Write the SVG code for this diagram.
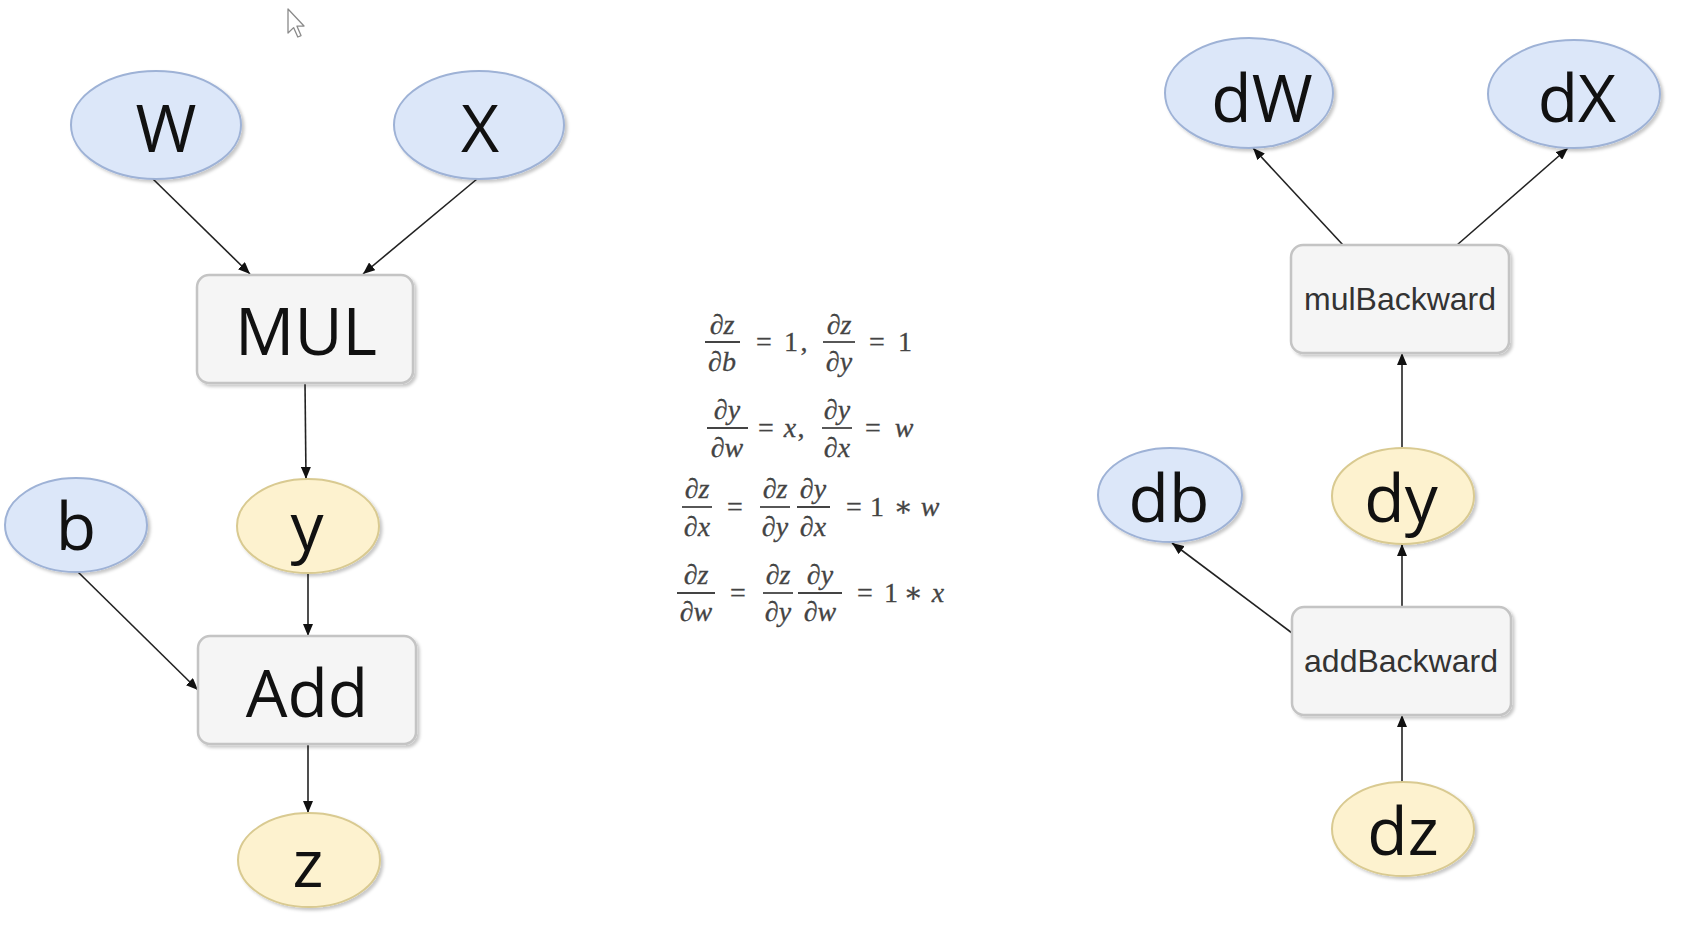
<svg xmlns="http://www.w3.org/2000/svg" width="1692" height="926" viewBox="0 0 1692 926">
<defs>
<style>
.bg{fill:#ffffff}
.blue{fill:#dce7f9;stroke:#9eb2d6;stroke-width:2}
.yel{fill:#fdf2cf;stroke:#d9ca91;stroke-width:2}
.box{fill:#f5f5f5;stroke:#c4c4c4;stroke-width:2.5}
.big{font-family:"Open Sans","Liberation Sans",sans-serif;font-size:66px;fill:#111;text-anchor:middle}
.small{font-family:"Liberation Sans",Arial,sans-serif;font-size:32px;fill:#333;text-anchor:middle}
.edge{stroke:#222;stroke-width:1.6;fill:none;marker-end:url(#arr)}
.m{font-family:"Liberation Serif","DejaVu Serif",serif;font-size:28px;fill:#444;text-anchor:middle;stroke:#444;stroke-width:0.3}
.mi{font-style:italic}
.bar{stroke:#444;stroke-width:1.8}
</style>
<marker id="arr" markerUnits="userSpaceOnUse" markerWidth="13" markerHeight="10" refX="12" refY="5" orient="auto">
<path d="M0,0 L12,5 L0,10 z" fill="#111"/>
</marker>
<filter id="sh" x="-20%" y="-20%" width="140%" height="140%">
<feDropShadow dx="2.5" dy="2.5" stdDeviation="1.5" flood-color="#000" flood-opacity="0.22"/>
</filter>
</defs>
<rect class="bg" x="0" y="0" width="1692" height="926"/>

<g id="cursor">
<path d="M288,9 L288,33 L293.6,27.6 L297.8,37 L301,35.6 L297,26.2 L304,26 Z" fill="#fff" stroke="#8a8a8a" stroke-width="1.3" stroke-linejoin="round"/>
</g>

<g id="connectors">
<line class="edge" x1="153" y1="179" x2="250" y2="274"/>
<line class="edge" x1="477" y1="179" x2="363" y2="274"/>
<line class="edge" x1="305" y1="383" x2="306" y2="479"/>
<line class="edge" x1="308" y1="573" x2="308" y2="636"/>
<line class="edge" x1="78" y1="572" x2="198" y2="690"/>
<line class="edge" x1="308" y1="744" x2="308" y2="813"/>
<line class="edge" x1="1343" y1="245" x2="1253" y2="148"/>
<line class="edge" x1="1457" y1="245" x2="1568" y2="148"/>
<line class="edge" x1="1402" y1="448" x2="1402" y2="353"/>
<line class="edge" x1="1402" y1="607" x2="1402" y2="544"/>
<line class="edge" x1="1292" y1="633" x2="1172" y2="543"/>
<line class="edge" x1="1402" y1="782" x2="1402" y2="715"/>
</g>

<g id="node-W"><ellipse class="blue" filter="url(#sh)" cx="156" cy="125" rx="85" ry="54"/><text class="big" x="166" y="152">W</text></g>
<g id="node-X"><ellipse class="blue" filter="url(#sh)" cx="479" cy="125" rx="85" ry="54"/><text class="big" x="480" y="152">X</text></g>
<g id="node-MUL"><rect class="box" filter="url(#sh)" x="197" y="275" width="216" height="108" rx="12"/><text class="big" x="306" y="355">MUL</text></g>
<g id="node-b"><ellipse class="blue" filter="url(#sh)" cx="76" cy="525" rx="71" ry="47"/><text class="big" x="76" y="550">b</text></g>
<g id="node-y"><ellipse class="yel" filter="url(#sh)" cx="308" cy="526" rx="71" ry="47"/><text class="big" x="307" y="550">y</text></g>
<g id="node-Add"><rect class="box" filter="url(#sh)" x="198" y="636" width="218" height="108" rx="12"/><text class="big" x="307" y="717">Add</text></g>
<g id="node-z"><ellipse class="yel" filter="url(#sh)" cx="309" cy="860" rx="71" ry="47"/><text class="big" x="308" y="887">z</text></g>

<g id="node-dW"><ellipse class="blue" filter="url(#sh)" cx="1249" cy="93" rx="84" ry="55"/><text class="big" x="1262" y="122">dW</text></g>
<g id="node-dX"><ellipse class="blue" filter="url(#sh)" cx="1574" cy="94" rx="86" ry="54"/><text class="big" x="1577" y="122">dX</text></g>
<g id="node-mulBackward"><rect class="box" filter="url(#sh)" x="1291" y="245" width="218" height="108" rx="12"/><text class="small" x="1400" y="310">mulBackward</text></g>
<g id="node-db"><ellipse class="blue" filter="url(#sh)" cx="1170" cy="495" rx="72" ry="47"/><text class="big" x="1169" y="522">db</text></g>
<g id="node-dy"><ellipse class="yel" filter="url(#sh)" cx="1403" cy="496" rx="71" ry="48"/><text class="big" x="1401" y="522">dy</text></g>
<g id="node-addBackward"><rect class="box" filter="url(#sh)" x="1292" y="607" width="219" height="108" rx="12"/><text class="small" x="1401" y="672">addBackward</text></g>
<g id="node-dz"><ellipse class="yel" filter="url(#sh)" cx="1403" cy="829" rx="71" ry="47"/><text class="big" x="1403" y="855">dz</text></g>

<g id="equations">
<!-- line 1 -->
<text class="m mi" x="722" y="334">∂z</text><line class="bar" x1="705" y1="342" x2="740" y2="342"/><text class="m mi" x="722" y="371">∂b</text>
<text class="m" x="764" y="351">=</text><text class="m" x="791" y="351">1</text><text class="m" x="804" y="351">,</text>
<text class="m mi" x="839" y="334">∂z</text><line class="bar" x1="823" y1="342" x2="855" y2="342"/><text class="m mi" x="839" y="371">∂y</text>
<text class="m" x="877" y="351">=</text><text class="m" x="905" y="351">1</text>
<!-- line 2 -->
<text class="m mi" x="727" y="419">∂y</text><line class="bar" x1="707" y1="428" x2="748" y2="428"/><text class="m mi" x="727" y="457">∂w</text>
<text class="m" x="766" y="437">=</text><text class="m mi" x="790" y="437">x</text><text class="m" x="801" y="437">,</text>
<text class="m mi" x="837" y="419">∂y</text><line class="bar" x1="822" y1="428" x2="852" y2="428"/><text class="m mi" x="837" y="457">∂x</text>
<text class="m" x="873" y="437">=</text><text class="m mi" x="904" y="437">w</text>
<!-- line 3 -->
<text class="m mi" x="697" y="498">∂z</text><line class="bar" x1="682" y1="507" x2="712" y2="507"/><text class="m mi" x="697" y="536">∂x</text>
<text class="m" x="735" y="516">=</text>
<text class="m mi" x="775" y="498">∂z</text><line class="bar" x1="760" y1="507" x2="790" y2="507"/><text class="m mi" x="775" y="536">∂y</text>
<text class="m mi" x="813" y="498">∂y</text><line class="bar" x1="797" y1="507" x2="830" y2="507"/><text class="m mi" x="813" y="536">∂x</text>
<text class="m" x="854" y="516">=</text><text class="m" x="877" y="516">1</text><text class="m" x="903" y="516">∗</text><text class="m mi" x="930" y="516">w</text>
<!-- line 4 -->
<text class="m mi" x="696" y="584">∂z</text><line class="bar" x1="677" y1="593" x2="715" y2="593"/><text class="m mi" x="696" y="621">∂w</text>
<text class="m" x="738" y="602">=</text>
<text class="m mi" x="778" y="584">∂z</text><line class="bar" x1="763" y1="593" x2="793" y2="593"/><text class="m mi" x="778" y="621">∂y</text>
<text class="m mi" x="820" y="584">∂y</text><line class="bar" x1="798" y1="593" x2="842" y2="593"/><text class="m mi" x="820" y="621">∂w</text>
<text class="m" x="865" y="602">=</text><text class="m" x="891" y="602">1</text><text class="m" x="913" y="602">∗</text><text class="m mi" x="938" y="602">x</text>
</g>
</svg>
